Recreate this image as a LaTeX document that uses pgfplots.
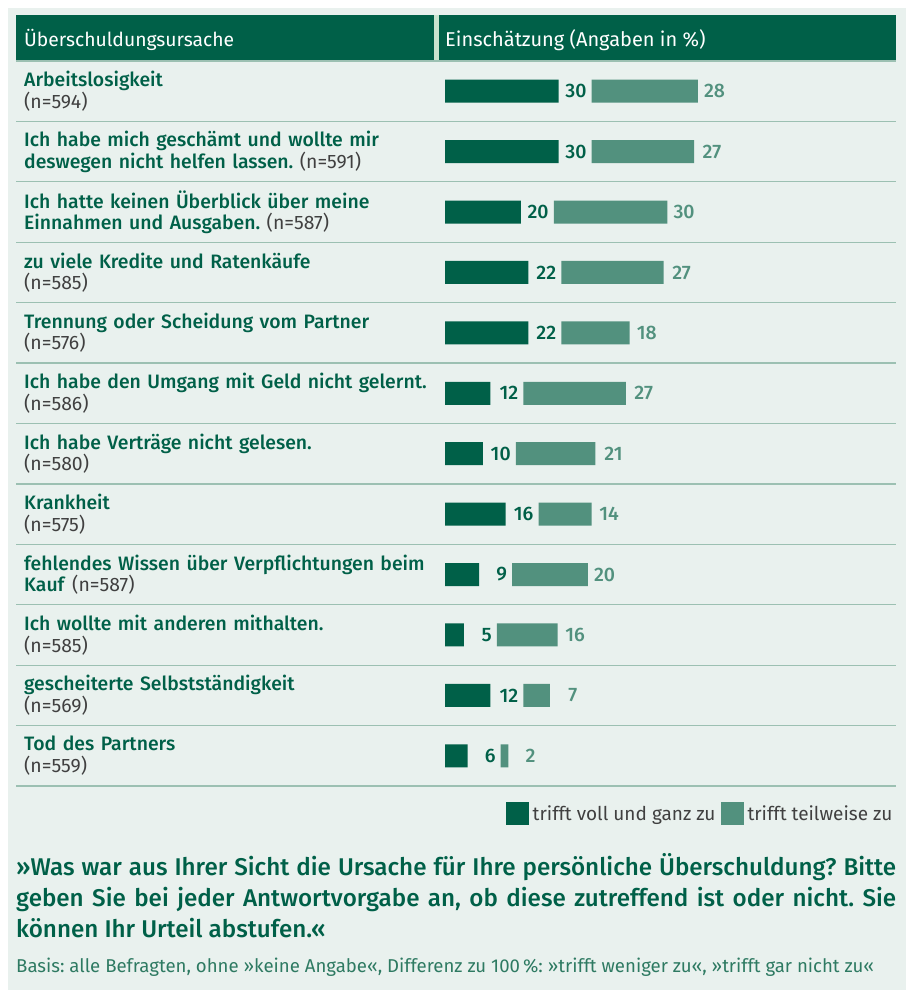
\documentclass[border=0pt]{standalone}
\usepackage{pgfplots}
\usepackage{pgfplotstable}
\pgfplotsset{compat=1.18}
\usepackage{fontspec}
\setmainfont{Fira Sans}[BoldFont={Fira Sans Medium}]
\frenchspacing

\definecolor{dkgreen}{RGB}{0,96,72}
\definecolor{ltgreen}{RGB}{82,145,126}
\definecolor{bgmint}{RGB}{233,241,238}
\definecolor{sepline}{RGB}{156,192,178}
\definecolor{hdrsep}{RGB}{201,228,207}
\definecolor{txtgray}{RGB}{64,64,64}
\definecolor{fngreen}{RGB}{46,122,98}

\newcommand{\nn}[1]{{\mdseries\color{txtgray}(n=#1)}}

% voll = trifft voll und ganz zu, teil = trifft teilweise zu
% gap/rest: unsichtbare Abstaende, an denen die Zahlen stehen
\pgfplotstableread{
y voll gap teil rest
0  30 8.7 28 8
1  30 8.7 27 8
2  20 8.7 30 8
3  22 8.7 27 8
4  22 8.7 18 8
5  12 8.7 27 8
6  10 8.7 21 8
7  16 8.7 14 8
8   9 8.7 20 8
9   5 8.7 16 8
10 12 8.7  7 8
11  6 8.7  2 8
}\daten

\begin{document}
\begin{tikzpicture}
\fill[white] (0pt,0pt) rectangle (906pt,-990pt);
\fill[bgmint] (8pt,-8pt) rectangle (906pt,-990pt);
\fill[dkgreen] (16pt,-15pt) rectangle (896pt,-61pt);
\fill[hdrsep] (434pt,-15pt) rectangle (439pt,-61pt);
\node[anchor=base west, inner sep=0pt, text=white, font=\fontsize{19.3}{22}\selectfont] at (24pt,-47pt) {Überschuldungsursache};
\node[anchor=base west, inner sep=0pt, text=white, font=\fontsize{20}{22}\selectfont] at (445pt,-47pt) {Einschätzung (Angaben in \%)};
\foreach \k in {0,...,12} {
  \draw[sepline, line width=1.3pt] (16pt,{-61pt-60.42pt*\k}) -- (896pt,{-61pt-60.42pt*\k});
}

\begin{axis}[
  at={(445pt,-786pt)}, anchor=south west,
  scale only axis, width=451pt, height=725pt,
  xbar stacked, bar width=23pt,
  xmin=0, xmax=119, ymin=-0.5, ymax=11.5, y dir=reverse,
  enlargelimits=false, clip=false,
  axis line style={draw=none}, major tick length=0pt,
  xtick=\empty, ytick={0,...,11},
  yticklabels={
    {\textbf{Arbeitslosigkeit}\\\nn{594}},
    {\textbf{Ich habe mich geschämt und wollte mir}\\\textbf{deswegen nicht helfen lassen.} \nn{591}},
    {\textbf{Ich hatte keinen Überblick über meine}\\\textbf{Einnahmen und Ausgaben.} \nn{587}},
    {\textbf{zu viele Kredite und Ratenkäufe}\\\nn{585}},
    {\textbf{Trennung oder Scheidung vom Partner}\\\nn{576}},
    {\textbf{Ich habe den Umgang mit Geld nicht gelernt.}\\\nn{586}},
    {\textbf{Ich habe Verträge nicht gelesen.}\\\nn{580}},
    {\textbf{Krankheit}\\\nn{575}},
    {\textbf{fehlendes Wissen über Verpflichtungen beim}\\\textbf{Kauf} \nn{587}},
    {\textbf{Ich wollte mit anderen mithalten.}\\\nn{585}},
    {\textbf{gescheiterte Selbstständigkeit}\\\nn{569}},
    {\textbf{Tod des Partners}\\\nn{559}}
  },
  yticklabel style={anchor=west, xshift=-421pt, text width=420pt, align=left,
    inner sep=0pt, text=dkgreen, font=\fontsize{19.4}{21.5}\selectfont},
  legend columns=-1,
  legend image code/.code={\fill[#1] (0pt,-11.5pt) rectangle (23pt,11.5pt);},
  legend style={at={(1,0)}, anchor=north east, yshift=-16pt, draw=none, fill=none,
    inner sep=0pt, text=txtgray, font=\fontsize{19}{22}\selectfont,
    nodes={inner xsep=3.5pt, inner ysep=0pt},
    /tikz/every even column/.append style={column sep=2pt}},
]
\addplot[fill=dkgreen, draw=none] table[x=voll, y=y] {\daten};
\addplot[fill=none, draw=none, point meta=explicit symbolic,
  nodes near coords={\pgfplotspointmeta},
  nodes near coords style={anchor=east, xshift=11.5pt, inner sep=0pt, text=dkgreen,
    font=\fontsize{19.5}{22}\selectfont\bfseries}]
  table[x=gap, y=y, meta=voll] {\daten};
\addplot[fill=ltgreen, draw=none] table[x=teil, y=y] {\daten};
\addplot[fill=none, draw=none, point meta=explicit symbolic,
  nodes near coords={\makebox[1.12em][r]{\pgfplotspointmeta}},
  nodes near coords style={anchor=west, xshift=-10pt, inner sep=0pt, text=ltgreen,
    font=\fontsize{19.5}{22}\selectfont\bfseries}]
  table[x=rest, y=y, meta=teil] {\daten};
\legend{trifft voll und ganz zu,,trifft teilweise zu}
\end{axis}

\node[anchor=base west, text width=880pt, align=justify, inner sep=0pt, text=dkgreen,
  font=\fontsize{24.2}{31.2}\selectfont\bfseries] at (16pt,-875pt)
  {»Was war aus Ihrer Sicht die Ursache für Ihre persönliche Überschuldung? Bitte\linebreak
   geben Sie bei jeder Antwortvorgabe an, ob diese zutreffend ist oder nicht. Sie\linebreak
   können Ihr Urteil abstufen.«};
\node[anchor=base west, inner sep=0pt, text=fngreen, font=\fontsize{18.6}{21}\selectfont]
  at (16pt,-972pt) {Basis: alle Befragten, ohne »keine Angabe«, Differenz zu 100\,\%: »trifft weniger zu«, »trifft gar nicht zu«};

\pgfresetboundingbox
\path (0pt,0pt) rectangle (906pt,-990pt);
\end{tikzpicture}
\end{document}
